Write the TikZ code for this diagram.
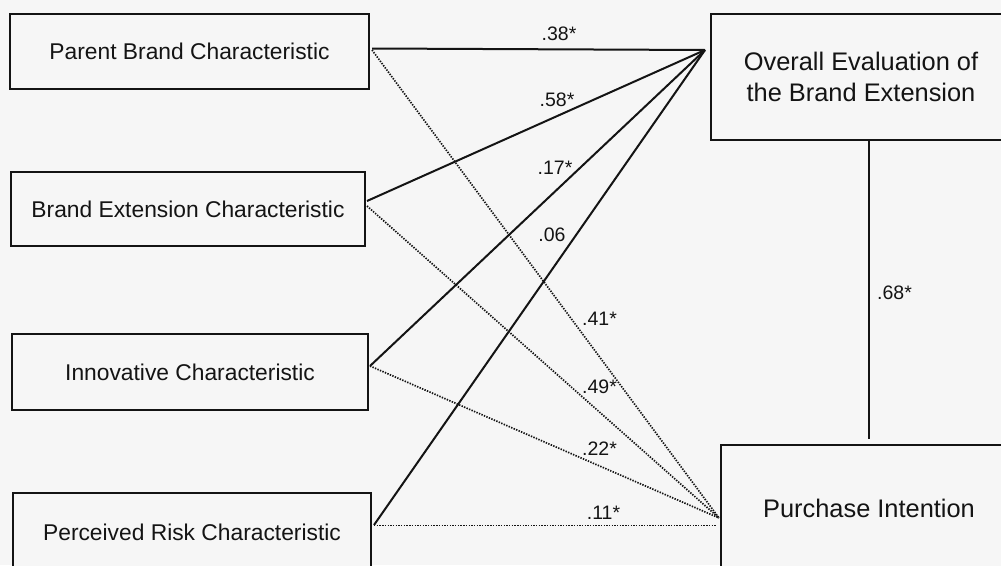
\documentclass[tikz,border=0pt]{standalone}
\usepackage{fontspec}
\setmainfont{Liberation Sans}
\usetikzlibrary{calc}
\definecolor{ink}{RGB}{20,20,20}
\definecolor{paper}{RGB}{246,246,246}
\begin{document}
\begin{tikzpicture}[x=1pt,y=-1pt,
  box/.style={draw=ink,line width=2pt,fill=paper,inner sep=0pt,anchor=north west,align=center,text=ink},
  leftbox/.style={box,font=\fontsize{22.8}{27}\selectfont},
  rightbox/.style={box,font=\fontsize{25.4}{31}\selectfont},
  solidpath/.style={draw=ink,line width=2pt},
  dotpath/.style={draw=ink,line width=1.7pt,dash pattern=on 1.4pt off 1.3pt},
  coef/.style={font=\fontsize{19.5}{22}\selectfont,text=ink,inner sep=0pt,anchor=base}]
\useasboundingbox (0,0) rectangle (1001,565);
\fill[paper] (0,0) rectangle (1001,565);
\clip (0,0) rectangle (1001,565);

% boxes
\node[leftbox,minimum width=359pt,minimum height=75pt] (par) at (9,13) {Parent Brand Characteristic};
\node[leftbox,minimum width=354pt,minimum height=74pt] (bec) at (10,171) {Brand Extension Characteristic};
\node[leftbox,minimum width=356pt,minimum height=76pt] (inn) at (11,333) {Innovative Characteristic};
\node[leftbox,minimum width=358pt,minimum height=78pt] (per) at (12,492) {Perceived Risk Characteristic};
\node[rightbox,minimum width=300pt,minimum height=126pt] (ov) at (710,13) {Overall Evaluation of\\the Brand Extension};
\node[rightbox,minimum width=296pt,minimum height=126pt] (pi) at (720,444) {Purchase Intention};

% convergence points
\coordinate (ovIn) at ([xshift=-5pt,yshift=27pt]ov.west);
\coordinate (piIn) at ([xshift=-1pt,yshift=-10pt]pi.west);
\coordinate (perOut) at ([xshift=2pt,yshift=6.5pt]per.east);

% solid paths to overall evaluation
\draw[solidpath] ([xshift=2pt,yshift=3pt]par.east) -- (ovIn);
\draw[solidpath] ([xshift=1pt,yshift=8pt]bec.east) -- (ovIn);
\draw[solidpath] ([xshift=1pt,yshift=6pt]inn.east) -- (ovIn);
\draw[solidpath] ([xshift=2pt,yshift=7pt]per.east) -- (ovIn);

% dotted paths to purchase intention
\draw[dotpath] ([xshift=2pt,yshift=1.5pt]par.east) -- (piIn);
\draw[dotpath] ([xshift=1pt,yshift=3pt]bec.east) -- (piIn);
\draw[dotpath] ([xshift=1pt,yshift=6pt]inn.east) -- (piIn);
\draw[dotpath] (perOut) -- ([xshift=-4pt]perOut -| pi.west);

% overall -> purchase
\draw[solidpath,shorten >=5pt] ([xshift=8pt]ov.south) -- ([xshift=8pt]ov.south |- pi.north);

% coefficients
\node[coef] (c38) at (559,40) {.38*};
\node[coef] (c58) at (557,106) {.58*};
\node[coef] (c17) at (555,174) {.17*};
\node[coef] (c06) at (552,241) {.06};
\node[coef] (c41) at (599.5,325) {.41*};
\node[coef] (c49) at (599.5,393) {.49*};
\node[coef] (c22) at (599.5,455) {.22*};
\node[coef] (c11) at (603.5,519) {.11*};
\node[coef] (c68) at (894.5,299) {.68*};
\end{tikzpicture}
\end{document}
